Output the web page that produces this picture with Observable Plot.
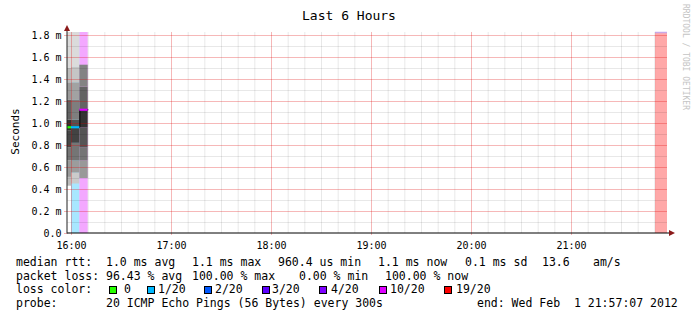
<!DOCTYPE html>
<html><head><meta charset="utf-8">
<script src="https://cdn.jsdelivr.net/npm/d3@7"></script>
<script src="https://cdn.jsdelivr.net/npm/@observablehq/plot@0.6"></script>
<style>
html,body{margin:0;padding:0;background:#fff;}
#chart{width:697px;height:321px;overflow:hidden;}
</style></head><body><div id="chart"></div>
<script>
const T = (h, m, s = 0) => new Date(Date.UTC(2012, 1, 1, h, m, s));

// ---- texts ----
const title = "Last 6 Hours";
const yLabel = "Seconds";
const watermark = "RRDTOOL / TOBI OETIKER";

// ---- axes ----
const timeDomain = [T(15, 57, 36), T(21, 57, 36)];
const yMax = 1.8273; // ms
const yTicks = [0, 0.2, 0.4, 0.6, 0.8, 1.0, 1.2, 1.4, 1.6, 1.8];
const yMinorTicks = [0.1, 0.3, 0.5, 0.7, 0.9, 1.1, 1.3, 1.5, 1.7];
const hourTicks = [T(16, 0), T(17, 0), T(18, 0), T(19, 0), T(20, 0), T(21, 0)];

// ---- smoke columns (5-minute steps) ----
const colStart = [T(15, 57, 36), T(16, 0), T(16, 5)];
const colEnd = [T(16, 0), T(16, 5), T(16, 10)];
// band edges (ms) and smoke density between consecutive edges
const smokeEdgesA = [0.43, 0.51, 0.66, 0.78, 0.93, 1.03, 1.21, 1.37, 1.50, yMax];
const smokeDensA = [0.20, 0.40, 0.60, 0.86, 0.98, 0.70, 0.40, 0.21, 0.03];
const smokeEdgesB = [0.45, 0.55, 0.66, 0.82, 0.96, 1.03, 1.21, 1.37, 1.51, yMax];
const smokeDensB = [0.12, 0.38, 0.60, 0.88, 0.80, 0.55, 0.35, 0.15, 0.03];
const smokeEdgesC = [0.50, 0.66, 0.78, 0.96, 1.12, 1.33, 1.53];
const smokeDensC = [0.40, 0.60, 0.78, 0.97, 0.70, 0.52];
const medianRtt = [0.966, 0.966, 1.125]; // ms
const colLoss = [0, 1, 10]; // lost pings of 20

// ---- loss background bars ----
const lossBarStart = [T(16, 0), T(16, 5), T(21, 50, 24)];
const lossBarEnd = [T(16, 5), T(16, 10), T(21, 57, 36)];
const lossBarLoss = [1, 10, 20];

// ---- loss colour legend ----
const lossLevels = [0, 1, 2, 3, 4, 10, 19];
const lossLabels = ["0", "1/20", "2/20", "3/20", "4/20", "10/20", "19/20"];
const lossColors = ["#26ff00", "#00b8ff", "#0059ff", "#5e00ff", "#7e00ff", "#dd00ff", "#ff0000"];

// ---- legend statistics ----
const rttLabel = "median rtt:";
const rttStats = ["1.0 ms avg", "1.1 ms max", "960.4 us min", "1.1 ms now", "0.1 ms sd", "13.6", "am/s"];
const lossLabel = "packet loss:";
const lossStats = ["96.43 % avg", "100.00 % max", "0.00 % min", "100.00 % now"];
const lossColorLabel = "loss color:";
const probeLabel = "probe:";
const probeText = "20 ICMP Echo Pings (56 Bytes) every 300s";
const endText = "end: Wed Feb  1 21:57:07 2012";

// ---------------------------------------------------------------
const colorOfLoss = n => {
  let c = lossColors[0];
  lossLevels.forEach((l, i) => { if (n >= l) c = lossColors[i]; });
  return c;
};

const smokeCols = [[smokeEdgesA, smokeDensA], [smokeEdgesB, smokeDensB], [smokeEdgesC, smokeDensC]];
const smoke = [];
smokeCols.forEach(([edges, dens], c) => {
  dens.forEach((d, i) => smoke.push({x1: colStart[c], x2: colEnd[c], y1: edges[i], y2: edges[i + 1], d}));
});
const lossBars = lossBarLoss.map((l, i) => ({x1: lossBarStart[i], x2: lossBarEnd[i], loss: l}));
const medians = medianRtt.map((v, i) => ({x1: colStart[i], x2: colEnd[i], y: v, loss: colLoss[i]}));
const stepPts = medians.map(d => ({x: d.x1, y: d.y})).concat([{x: medians[medians.length - 1].x2, y: medians[medians.length - 1].y}]);

const minorX = d3.utcMinute.every(10).range(timeDomain[0], timeDomain[1]).filter(t => t.getUTCMinutes() !== 0);

const FONT = "'DejaVu Sans Mono', monospace";

const plot = Plot.plot({
  width: 697, height: 321,
  marginLeft: 67, marginRight: 30, marginTop: 32, marginBottom: 88,
  style: {fontFamily: FONT, fontSize: "10px", background: "#fff", color: "#000"},
  x: {type: "utc", domain: timeDomain},
  y: {domain: [0, yMax]},
  color: {type: "linear", domain: [0, 1], range: ["#e0e0e0", "#2e2e2e"], interpolate: "rgb"},
  marks: [
    ...lossBars.map(d => Plot.rectY([d], {x1: "x1", x2: "x2", y1: 0, y2: yMax, fill: colorOfLoss(d.loss), fillOpacity: 0.34})),
    Plot.ruleY([lossBars[2]], {x1: "x1", x2: "x2", y: yMax, stroke: "#c8a8e8", strokeWidth: 1.5}),
    Plot.rectY(smoke, {x1: "x1", x2: "x2", y1: "y1", y2: "y2", fill: "d"}),
    // grid
    Plot.ruleY(yMinorTicks, {stroke: "#000", strokeOpacity: 0.09}),
    Plot.ruleX(minorX, {stroke: "#000", strokeOpacity: 0.09}),
    Plot.ruleY(yTicks.slice(1), {stroke: "#e00000", strokeOpacity: 0.28}),
    Plot.ruleX(hourTicks, {stroke: "#e00000", strokeOpacity: 0.28}),
    // median rtt
    Plot.line(stepPts, {x: "x", y: "y", curve: "step-after", stroke: "#000", strokeWidth: 1}),
    ...medians.map(d => Plot.ruleY([d], {x1: "x1", x2: "x2", y: "y", stroke: colorOfLoss(d.loss), strokeWidth: 2.2})),
    // axes
    Plot.axisY(yTicks, {tickFormat: d => d === 0 ? "0.0" : d.toFixed(1) + " m", tickSize: 3, tickPadding: 3, stroke: "#e00000", strokeOpacity: 0.3, label: null}),
    Plot.axisX(hourTicks, {tickFormat: d3.utcFormat("%H:%M"), tickSize: 2, tickPadding: 6, stroke: "#e00000", strokeOpacity: 0.3, label: null})
  ]
});

document.getElementById("chart").appendChild(plot);
const svg = d3.select(plot);
const sx = plot.scale("x"), sy = plot.scale("y");
const x0 = sx.apply(timeDomain[0]), x1 = sx.apply(timeDomain[1]);
const y0 = sy.apply(0), yTop = sy.apply(yMax);

// axis lines and arrows
svg.append("line").attr("x1", x0).attr("x2", x1 + 6).attr("y1", y0).attr("y2", y0).attr("stroke", "#000");
svg.append("line").attr("x1", x0).attr("x2", x0).attr("y1", y0 + 0.5).attr("y2", yTop - 4).attr("stroke", "#222");
svg.append("path").attr("d", `M${x1 + 2},${y0 - 3}L${x1 + 8},${y0}L${x1 + 2},${y0 + 3}Z`).attr("fill", "#8b1a1a");
svg.append("path").attr("d", `M${x0 - 3},${yTop - 1}L${x0},${yTop - 7}L${x0 + 3},${yTop - 1}Z`).attr("fill", "#8b1a1a");

const txt = (x, y, s, size, extra = {}) => {
  const t = svg.append("text").attr("x", x).attr("y", y).text(s)
    .attr("font-family", FONT).attr("font-size", size).attr("fill", "#000")
    .attr("text-anchor", "start")
    .attr("xml:space", "preserve").style("white-space", "pre");
  Object.entries(extra).forEach(([k, v]) => t.attr(k, v));
  return t;
};

txt(349, 20, title, 13, {"text-anchor": "middle"});
txt(0, 0, yLabel, 11, {"text-anchor": "middle", "dy": "0.35em", "transform": "translate(15,131.5) rotate(-90)"});
txt(0, 0, watermark, 8, {"dy": "0.35em", "fill": "#c4c4c4", "transform": "translate(686,4) rotate(90)"});

const LF = 11.5;
const rows = [266, 279.5, 293, 307];
txt(16, rows[0], rttLabel, LF);
[106, 192, 278, 378, 465, 542, 593].forEach((x, i) => txt(x, rows[0], rttStats[i], LF));
txt(16, rows[1], lossLabel, LF);
[106, 192, 299, 385].forEach((x, i) => txt(x, rows[1], lossStats[i], LF));
txt(16, rows[2], lossColorLabel, LF);
const sqX = [109, 147, 204, 262, 319, 379, 444];
const lbX = [124, 158, 215, 272, 331, 390, 456];
lossLabels.forEach((l, i) => {
  svg.append("rect").attr("x", sqX[i] + 0.5).attr("y", 286.5).attr("width", 7).attr("height", 7)
    .attr("fill", lossColors[i]).attr("stroke", "#000").attr("stroke-width", 1);
  txt(lbX[i], rows[2], l, LF);
});
txt(16, rows[3], probeLabel, LF);
txt(106, rows[3], probeText, LF);
txt(477, rows[3], endText, LF);
</script></body></html>
